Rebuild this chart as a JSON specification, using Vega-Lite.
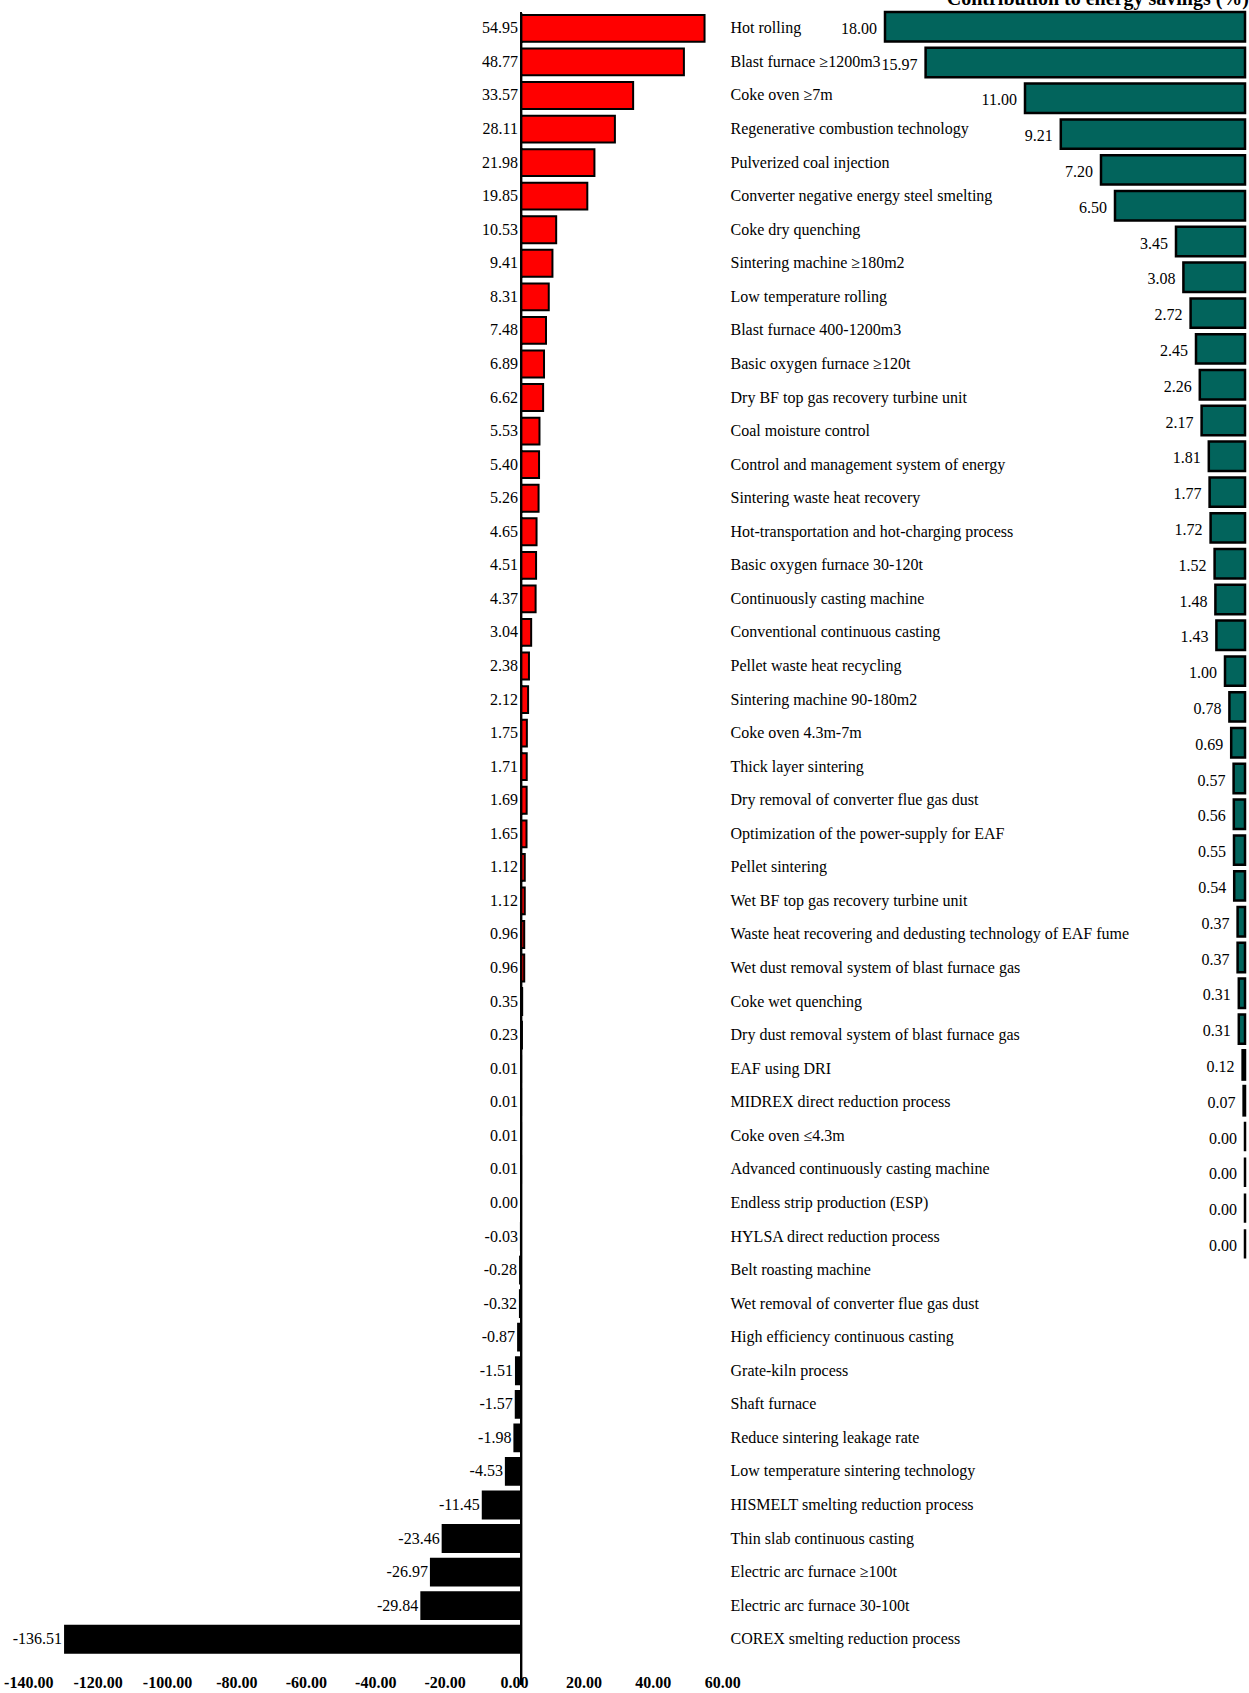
{
  "$schema": "https://vega.github.io/schema/vega-lite/v6.json",
  "width": 1249,
  "height": 1693,
  "padding": 0,
  "autosize": {"type": "none"},
  "background": "white",
  "config": {
    "view": {"stroke": null},
    "font": "Liberation Serif",
    "locale": {"number": {"decimal": ".", "thousands": ",", "grouping": [3], "currency": ["$", ""], "minus": "-"}}
  },
  "data": {"values": [
    {"n": "Hot rolling", "v": 54.95, "c": 18.00},
    {"n": "Blast furnace ≥1200m3", "v": 48.77, "c": 15.97},
    {"n": "Coke oven ≥7m", "v": 33.57, "c": 11.00},
    {"n": "Regenerative combustion technology", "v": 28.11, "c": 9.21},
    {"n": "Pulverized coal injection", "v": 21.98, "c": 7.20},
    {"n": "Converter negative energy steel smelting", "v": 19.85, "c": 6.50},
    {"n": "Coke dry quenching", "v": 10.53, "c": 3.45},
    {"n": "Sintering machine ≥180m2", "v": 9.41, "c": 3.08},
    {"n": "Low temperature rolling", "v": 8.31, "c": 2.72},
    {"n": "Blast furnace 400-1200m3", "v": 7.48, "c": 2.45},
    {"n": "Basic oxygen furnace ≥120t", "v": 6.89, "c": 2.26},
    {"n": "Dry BF top gas recovery turbine unit", "v": 6.62, "c": 2.17},
    {"n": "Coal moisture control", "v": 5.53, "c": 1.81},
    {"n": "Control and management system of energy", "v": 5.40, "c": 1.77},
    {"n": "Sintering waste heat recovery", "v": 5.26, "c": 1.72},
    {"n": "Hot-transportation and hot-charging process", "v": 4.65, "c": 1.52},
    {"n": "Basic oxygen furnace 30-120t", "v": 4.51, "c": 1.48},
    {"n": "Continuously casting machine", "v": 4.37, "c": 1.43},
    {"n": "Conventional continuous casting", "v": 3.04, "c": 1.00},
    {"n": "Pellet waste heat recycling", "v": 2.38, "c": 0.78},
    {"n": "Sintering machine 90-180m2", "v": 2.12, "c": 0.69},
    {"n": "Coke oven 4.3m-7m", "v": 1.75, "c": 0.57},
    {"n": "Thick layer sintering", "v": 1.71, "c": 0.56},
    {"n": "Dry removal of converter flue gas dust", "v": 1.69, "c": 0.55},
    {"n": "Optimization of the power-supply for EAF", "v": 1.65, "c": 0.54},
    {"n": "Pellet sintering", "v": 1.12, "c": 0.37},
    {"n": "Wet BF top gas recovery turbine unit", "v": 1.12, "c": 0.37},
    {"n": "Waste heat recovering and dedusting technology of EAF fume", "v": 0.96, "c": 0.31},
    {"n": "Wet dust removal system of blast furnace gas", "v": 0.96, "c": 0.31},
    {"n": "Coke wet quenching", "v": 0.35, "c": 0.12},
    {"n": "Dry dust removal system of blast furnace gas", "v": 0.23, "c": 0.07},
    {"n": "EAF using DRI", "v": 0.01, "c": 0.00},
    {"n": "MIDREX direct reduction process", "v": 0.01, "c": 0.00},
    {"n": "Coke oven ≤4.3m", "v": 0.01, "c": 0.00},
    {"n": "Advanced continuously casting machine", "v": 0.01, "c": 0.00},
    {"n": "Endless strip production (ESP)", "v": 0.00, "c": null},
    {"n": "HYLSA direct reduction process", "v": -0.03, "c": null},
    {"n": "Belt roasting machine", "v": -0.28, "c": null},
    {"n": "Wet removal of converter flue gas dust", "v": -0.32, "c": null},
    {"n": "High efficiency continuous casting", "v": -0.87, "c": null},
    {"n": "Grate-kiln process", "v": -1.51, "c": null},
    {"n": "Shaft furnace", "v": -1.57, "c": null},
    {"n": "Reduce sintering leakage rate", "v": -1.98, "c": null},
    {"n": "Low temperature sintering technology", "v": -4.53, "c": null},
    {"n": "HISMELT smelting reduction process", "v": -11.45, "c": null},
    {"n": "Thin slab continuous casting", "v": -23.46, "c": null},
    {"n": "Electric arc furnace ≥100t", "v": -26.97, "c": null},
    {"n": "Electric arc furnace 30-100t", "v": -29.84, "c": null},
    {"n": "COREX smelting reduction process", "v": -136.51, "c": null}
  ]},
  "layer": [
    {
      "layer": [
        {
          "mark": {"type": "bar", "stroke": "black", "strokeWidth": 2},
          "encoding": {
            "y": {"field": "n", "type": "nominal", "sort": null, "title": null,
              "scale": {"range": [11.6, 1656], "paddingInner": 0.2, "paddingOuter": 0.1, "round": false},
              "axis": {"orient": "right", "offset": -519, "domain": false, "ticks": false, "tickSize": 0, "labelPadding": 0, "labelFont": "Liberation Serif", "labelFontSize": 16, "labelColor": "black", "labelLimit": 600, "labelAlign": "left", "title": null}},
            "x": {"field": "v", "type": "quantitative", "scale": {"domain": [-155.99, 217.96], "nice": false, "zero": false}, "axis": null},
            "x2": {"datum": 0},
            "fill": {"condition": {"test": "datum.v > 0", "value": "#ff0000"}, "value": "#000000"}
          }
        },
        {
          "mark": {"type": "rule", "stroke": "black", "strokeWidth": 2, "yOffset": -16, "y2Offset": 45},
          "encoding": {
            "x": {"datum": 0, "type": "quantitative"},
            "y": {"datum": "Hot rolling", "type": "nominal"},
            "y2": {"datum": "COREX smelting reduction process"}
          }
        },
        {
          "transform": [{"filter": "datum.v >= 0"}],
          "mark": {"type": "text", "align": "right", "dx": -3, "font": "Liberation Serif", "fontSize": 16, "color": "black"},
          "encoding": {
            "y": {"field": "n", "type": "nominal", "sort": null},
            "x": {"datum": 0, "type": "quantitative"},
            "text": {"field": "v", "type": "quantitative", "format": ".2f"}
          }
        },
        {
          "transform": [{"filter": "datum.v < 0"}],
          "mark": {"type": "text", "align": "right", "dx": -3, "font": "Liberation Serif", "fontSize": 16, "color": "black"},
          "encoding": {
            "y": {"field": "n", "type": "nominal", "sort": null},
            "x": {"field": "v", "type": "quantitative"},
            "text": {"field": "v", "type": "quantitative", "format": ".2f"}
          }
        }
      ]
    },
    {
      "layer": [
        {
          "transform": [{"filter": "isValid(datum.c)"}],
          "mark": {"type": "bar", "fill": "#02645c", "stroke": "black", "strokeWidth": 2.5},
          "encoding": {
            "y": {"field": "n", "type": "nominal", "sort": null, "axis": null,
              "scale": {"range": [8.8, 1261.8], "paddingInner": 0.18, "paddingOuter": 0.09, "round": false}},
            "x": {"field": "c", "type": "quantitative", "scale": {"domain": [-0.2, 62.25], "reverse": true, "nice": false, "zero": false}, "axis": null},
            "x2": {"datum": 0}
          }
        },
        {
          "transform": [{"filter": "isValid(datum.c)"}],
          "mark": {"type": "text", "align": "right", "dx": -8, "dy": 2, "font": "Liberation Serif", "fontSize": 16, "color": "black"},
          "encoding": {
            "y": {"field": "n", "type": "nominal", "sort": null},
            "x": {"field": "c", "type": "quantitative"},
            "text": {"field": "c", "type": "quantitative", "format": ".2f"}
          }
        },
        {
          "data": {"values": [{"t": "Contribution to energy savings (%)"}]},
          "mark": {"type": "text", "align": "right", "baseline": "alphabetic", "yOffset": -22, "dx": 4, "font": "Liberation Serif", "fontSize": 20, "fontWeight": "bold", "color": "black"},
          "encoding": {
            "y": {"datum": "Hot rolling", "type": "nominal"},
            "x": {"datum": 0, "type": "quantitative"},
            "text": {"field": "t", "type": "nominal"}
          }
        }
      ]
    },
    {
      "data": {"values": [{"a": 1}]},
      "mark": {"type": "rule", "opacity": 0},
      "encoding": {
        "x": {"datum": 0, "type": "quantitative",
          "scale": {"domain": [-148.13, 211.8], "nice": false, "zero": false},
          "axis": {"orient": "bottom", "offset": -21, "values": [-140, -120, -100, -80, -60, -40, -20, 0, 20, 40, 60], "format": ".2f", "grid": false, "ticks": false, "domain": false, "labelFlush": false, "labelFont": "Liberation Serif", "labelFontSize": 16, "labelFontWeight": "bold", "labelColor": "black", "labelPadding": 2, "title": null}}
      }
    }
  ],
  "resolve": {"scale": {"x": "independent", "y": "independent"}}
}
